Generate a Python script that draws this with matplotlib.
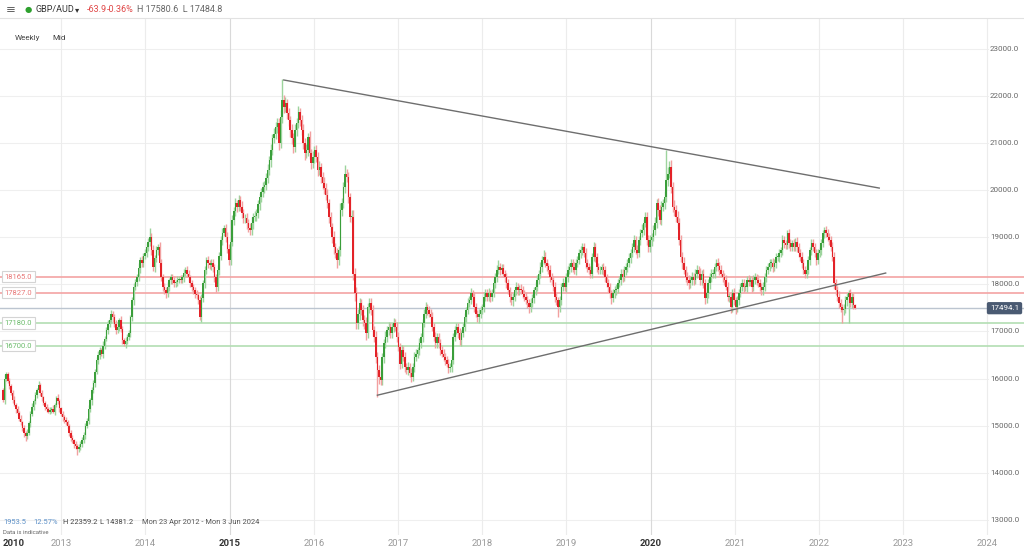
import datetime as dt
import matplotlib
matplotlib.use("Agg")
import matplotlib.pyplot as plt
import matplotlib.dates as mdates
import numpy as np

plt.rcParams["font.family"] = ["Roboto", "DejaVu Sans"]

# ---------------- data ----------------
start_date = dt.date(2012, 4, 23)
first_open = 15750
closes = [
    15550, 16000, 16100, 15950, 15850, 15700, 15550, 15450, 15350, 15270,
    15150, 15070, 14950, 14850, 14780, 14850, 15050, 15250, 15400, 15520,
    15650, 15750, 15860, 15700, 15600, 15480, 15400, 15350, 15300, 15330,
    15350, 15300, 15450, 15580, 15520, 15370, 15250, 15180, 15120, 15070,
    15000, 14850, 14750, 14690, 14620, 14580, 14500, 14540, 14620, 14700,
    14800, 15000, 15110, 15350, 15540, 15750, 15900, 16150, 16390, 16500,
    16600, 16530, 16700, 16850, 17030, 17150, 17250, 17380, 17300, 17150,
    17030, 17100, 17240, 17050, 16820, 16740, 16800, 16880, 16960, 17300,
    17660, 17940, 18050, 18150, 18350, 18510, 18450, 18600, 18660, 18800,
    18890, 19000, 18720, 18360, 18550, 18720, 18790, 18450, 18150, 17940,
    17880, 17810, 17950, 18090, 18150, 18100, 18020, 18050, 18090, 18120,
    18100, 18150, 18250, 18300, 18230, 18150, 18020, 17950, 17870, 17800,
    17780, 17660, 17300, 17700, 18020, 18300, 18510, 18450, 18400, 18450,
    18360, 18150, 17940, 18300, 18600, 18940, 19100, 19190, 19000, 18750,
    18510, 18900, 19360, 19550, 19720, 19650, 19790, 19650, 19510, 19400,
    19400, 19300, 19200, 19150, 19300, 19430, 19450, 19510, 19700, 19850,
    19950, 20060, 20100, 20250, 20420, 20630, 20850, 21100, 21200, 21340,
    21420, 21000, 21550, 21910, 21760, 21840, 21630, 21480, 21270, 21100,
    20910, 21270, 21420, 21660, 21480, 21270, 21000, 20780, 20850, 21130,
    20780, 20570, 20700, 20850, 20700, 20420, 20490, 20270, 20140, 20050,
    19900, 19720, 19430, 19210, 19000, 18790, 18660, 18510, 18720, 19580,
    19720, 20060, 20350, 20270, 19850, 19430, 19430, 18230, 17810, 17170,
    17380, 17600, 17450, 17240, 17170, 16960, 17510, 17600, 17450, 17030,
    16880, 16460, 16180, 16030, 15970, 16460, 16750, 16880, 17030, 17090,
    16960, 17090, 17170, 17090, 16880, 16670, 16320, 16600, 16460, 16250,
    16180, 16250, 16110, 16030, 16250, 16460, 16530, 16600, 16750, 16880,
    17170, 17380, 17510, 17450, 17380, 17300, 17090, 16880, 16750, 16880,
    16750, 16600, 16530, 16460, 16390, 16320, 16220, 16250, 16390, 16880,
    17030, 17090, 16960, 16810, 16960, 17090, 17300, 17450, 17600, 17660,
    17810, 17730, 17510, 17380, 17300, 17380, 17450, 17510, 17730, 17810,
    17730, 17810, 17730, 17810, 18020, 18150, 18300, 18360, 18300, 18340,
    18230, 18150, 18020, 17870, 17730, 17660, 17730, 17870, 17940, 17870,
    17900, 17870, 17800, 17730, 17660, 17600, 17510, 17600, 17700, 17870,
    17950, 18090, 18230, 18360, 18510, 18580, 18450, 18380, 18300, 18150,
    18090, 17940, 17730, 17660, 17510, 17660, 17940, 18020, 17940, 18150,
    18300, 18360, 18450, 18360, 18300, 18450, 18510, 18660, 18720, 18790,
    18660, 18450, 18360, 18300, 18230, 18580, 18790, 18580, 18360, 18300,
    18300, 18360, 18300, 18150, 18020, 17940, 17810, 17700, 17810, 17870,
    17900, 18020, 18090, 18230, 18150, 18300, 18360, 18450, 18550, 18660,
    18790, 18940, 18720, 18660, 18940, 19080, 19150, 19300, 19430, 18940,
    18790, 18940, 19000, 19150, 19300, 19720, 19580, 19360, 19650, 19720,
    19850, 20210, 20350, 20490, 20060, 19650, 19580, 19430, 19300, 18940,
    18580, 18450, 18300, 18150, 18090, 18020, 18090, 18150, 18090, 18230,
    18300, 18230, 18090, 18230, 18020, 17700, 17810, 18020, 18150, 18230,
    18230, 18360, 18450, 18380, 18300, 18230, 18150, 18090, 17950, 17730,
    17730, 17510, 17810, 17660, 17510, 17660, 17810, 17940, 18020, 17940,
    17940, 18090, 18050, 18090, 17940, 18090, 18150, 18090, 18020, 17940,
    17870, 17940, 18150, 18300, 18360, 18450, 18450, 18360, 18450, 18580,
    18580, 18660, 18720, 18940, 18870, 18830, 19080, 18870, 18790, 18870,
    18790, 18900, 18790, 18660, 18580, 18450, 18300, 18230, 18300, 18510,
    18720, 18870, 18790, 18660, 18510, 18660, 18720, 18870, 19080, 19150,
    19080, 19000, 18940, 18790, 18580, 18020, 17870, 17730, 17600, 17510,
    17450, 17480, 17660, 17730, 17810, 17600, 17730, 17558, 17494.1,
]
# upper / lower wick beyond the body, in tens of points
wick_hi = [
    6, 9, 5, 4, 7, 3, 5, 8, 4, 6,  5, 7, 3, 6, 4, 9, 5, 6, 8, 4,
    7, 5, 9, 4, 6, 3, 5, 7, 4, 6,  5, 8, 4, 6, 9, 5, 3, 6, 4, 7,
    6, 4, 7, 5, 3, 6, 4, 8, 5, 6,  7, 5, 6, 9, 4, 8, 6, 5, 7, 9,
    8, 6, 9, 5, 7, 10, 6, 8, 5, 7,  9, 6, 5, 8, 7, 4, 9, 6, 8, 5,
    7, 9, 6, 8, 10, 7, 9, 6, 8, 7,  9, 19, 8, 12, 7, 9, 6, 10, 8, 7,
    8, 6, 9, 5, 7, 6, 8, 5, 9, 6,  7, 5, 8, 6, 9, 7, 5, 8, 6, 7,
    8, 6, 10, 9, 7, 8, 6, 9, 7, 8,  9, 7, 8, 10, 9, 8, 10, 7, 9, 12,
    10, 8, 12, 9, 11, 8, 10, 9, 12, 8,  9, 11, 8, 10, 12, 9, 11, 8, 10, 9,
    10, 12, 9, 11, 13, 10, 12, 9, 11, 10,  12, 10, 15, 45, 11, 13, 9, 12, 10, 14,
    11, 13, 10, 12, 9, 11, 14, 10, 12, 9,  12, 10, 13, 9, 11, 10, 12, 9, 11, 13,
    10, 12, 9, 11, 10, 13, 9, 12, 10, 14,  12, 11, 18, 10, 12, 9, 15, 14, 11, 13,
    10, 12, 9, 11, 10, 13, 9, 12, 10, 11,  9, 12, 10, 11, 13, 9, 10, 12, 9, 11,
    10, 8, 11, 9, 12, 10, 8, 11, 9, 10,  8, 10, 9, 11, 8, 10, 9, 8, 11, 9,
    10, 9, 11, 8, 10, 9, 12, 8, 10, 9,  9, 8, 10, 9, 8, 10, 9, 8, 10, 9,
    8, 10, 9, 11, 8, 9, 10, 8, 11, 9,  12, 8, 10, 9, 8, 10, 9, 8, 10, 9,
    9, 11, 8, 10, 9, 10, 12, 15, 9, 10,  9, 8, 10, 9, 8, 10, 9, 8, 10, 9,
    8, 10, 9, 8, 10, 9, 8, 10, 9, 8,  9, 10, 8, 11, 9, 14, 10, 9, 8, 10,
    9, 8, 10, 9, 8, 10, 9, 11, 8, 10,  9, 10, 8, 9, 11, 8, 10, 9, 10, 8,
    9, 11, 8, 10, 9, 8, 10, 9, 8, 10,  9, 8, 10, 9, 8, 10, 9, 8, 10, 9,
    10, 9, 8, 10, 9, 8, 10, 9, 11, 10,  9, 10, 8, 11, 9, 10, 12, 9, 11, 10,
    10, 11, 9, 10, 12, 9, 11, 10, 12, 10,  13, 64, 15, 12, 14, 11, 13, 10, 12, 11,
    11, 10, 12, 9, 11, 10, 9, 11, 10, 9,  10, 9, 11, 8, 10, 9, 11, 10, 9, 10,
    9, 10, 8, 11, 9, 10, 8, 9, 10, 9,  8, 10, 9, 11, 8, 10, 9, 8, 10, 9,
    9, 8, 10, 9, 8, 10, 9, 8, 10, 9,  8, 10, 9, 8, 10, 9, 8, 10, 9, 8,
    9, 10, 8, 11, 9, 8, 7, 10, 9, 8,  9, 8, 10, 9, 8, 10, 9, 8, 10, 9,
    8, 9, 10, 8, 9, 10, 8, 9, 7, 6,  9, 10, 8, 9, 10, 11, 9, 10, 12, 9,
    8, 10, 9, 8, 6, 10, 9, 8, 2,
]
wick_lo = [
    5, 8, 6, 4, 7, 5, 6, 4, 8, 5,  6, 5, 7, 9, 10, 6, 5, 7, 4, 6,
    5, 7, 4, 6, 8, 5, 7, 6, 4, 5,  6, 4, 7, 5, 6, 8, 5, 7, 6, 5,
    7, 6, 8, 5, 9, 7, 12, 6, 5, 7,  6, 8, 5, 7, 6, 9, 5, 8, 6, 7,
    8, 6, 9, 7, 5, 8, 6, 7, 9, 6,  8, 7, 9, 6, 8, 5, 9, 7, 6, 8,
    7, 9, 6, 8, 7, 10, 8, 9, 7, 8,  9, 8, 10, 7, 9, 8, 10, 9, 8, 9,
    8, 9, 7, 10, 8, 9, 7, 8, 9, 7,  8, 7, 9, 8, 7, 9, 8, 10, 7, 8,
    9, 8, 6, 10, 8, 9, 7, 10, 8, 9,  10, 9, 11, 8, 10, 9, 11, 8, 10, 9,
    9, 10, 8, 11, 9, 12, 10, 9, 11, 10,  10, 12, 9, 11, 10, 12, 9, 11, 10, 12,
    11, 10, 12, 9, 11, 10, 13, 11, 10, 12,  12, 14, 11, 13, 12, 10, 13, 11, 14, 12,
    13, 11, 12, 10, 13, 11, 12, 14, 10, 12,  11, 13, 10, 12, 11, 13, 10, 12, 11, 13,
    12, 10, 13, 11, 12, 14, 10, 16, 11, 12,  13, 11, 12, 10, 13, 11, 12, 14, 16, 12,
    11, 13, 10, 12, 11, 14, 10, 12, 11, 13,  10, 12, 58, 14, 11, 10, 12, 9, 11, 10,
    10, 9, 11, 8, 10, 9, 12, 10, 9, 11,  9, 10, 8, 11, 9, 10, 8, 9, 10, 9,
    10, 8, 9, 11, 8, 10, 9, 8, 11, 9,  9, 10, 8, 9, 10, 8, 11, 9, 10, 8,
    9, 8, 10, 9, 11, 8, 9, 10, 8, 9,  8, 10, 9, 8, 10, 12, 9, 8, 10, 9,
    9, 8, 10, 9, 8, 10, 9, 8, 10, 9,  8, 10, 9, 8, 10, 9, 11, 8, 10, 9,
    9, 8, 10, 9, 8, 10, 11, 9, 8, 10,  9, 10, 8, 9, 10, 8, 9, 10, 8, 9,
    10, 9, 11, 10, 21, 9, 10, 8, 9, 10,  9, 8, 10, 9, 8, 10, 9, 8, 10, 9,
    8, 10, 9, 8, 10, 9, 8, 10, 9, 8,  9, 8, 10, 9, 8, 10, 9, 12, 8, 9,
    10, 9, 8, 10, 9, 8, 10, 9, 8, 10,  9, 10, 8, 11, 9, 10, 8, 11, 9, 10,
    11, 10, 12, 9, 11, 10, 12, 9, 11, 10,  12, 11, 13, 10, 12, 11, 13, 10, 12, 11,
    10, 12, 9, 11, 10, 12, 9, 11, 10, 9,  10, 9, 11, 10, 9, 12, 10, 9, 11, 10,
    9, 10, 8, 9, 10, 8, 9, 10, 8, 9,  10, 12, 9, 10, 13, 9, 10, 8, 9, 10,
    9, 10, 8, 9, 10, 8, 9, 10, 8, 9,  10, 9, 8, 10, 9, 8, 10, 9, 8, 10,
    9, 10, 8, 9, 10, 8, 9, 10, 8, 9,  8, 9, 10, 8, 9, 10, 8, 9, 10, 8,
    9, 10, 8, 9, 10, 8, 9, 10, 8, 9,  8, 9, 10, 8, 9, 12, 10, 9, 11, 10,
    28, 10, 9, 11, 56, 9, 10, 8, 1,
]

level_red = [18165.0, 17827.0]
level_green = [17180.0, 16700.0]
last_price = 17494.1
trend_upper_dates = ["2015-08-24", "2022-09-19"]
trend_upper_vals = [22336, 20043]
trend_lower_dates = ["2016-10-03", "2022-10-17"]
trend_lower_vals = [15648, 18240]
y_ticks = [13000, 14000, 15000, 16000, 17000, 18000, 19000, 20000, 21000, 22000, 23000]
year_ticks = [2013, 2014, 2015, 2016, 2017, 2018, 2019, 2020, 2021, 2022, 2023, 2024]
bold_years = [2015, 2020]

# ---------------- figure ----------------
W, H = 1024, 549
fig = plt.figure(figsize=(W / 100, H / 100), dpi=100)
fig.patch.set_facecolor("white")

ax_top_px, ax_bot_px = 18, 535
ax = fig.add_axes([0, (H - ax_bot_px) / H, 1, (ax_bot_px - ax_top_px) / H])
for s in ax.spines.values():
    s.set_visible(False)
ax.set_xticks([])
ax.set_yticks([])

pts_per_px = 1000 / 47.13
ax.set_ylim(23000 - (ax_bot_px - 48.7) * pts_per_px, 23000 + (48.7 - ax_top_px) * pts_per_px)
t0 = mdates.date2num(start_date)
days_per_px = 365.25 / 84.2
ax.set_xlim(t0 - 3 * days_per_px, t0 + (W - 3) * days_per_px)


def fx(px):
    return px / W


def fy(py):
    return 1 - py / H


def price_px(p):
    return 48.7 + (23000 - p) / pts_per_px


n = min(len(closes), len(wick_hi), len(wick_lo))
c = np.array(closes[:n], dtype=float)
o = np.concatenate([[first_open], c[:-1]])
hi = np.maximum(o, c) + np.array(wick_hi[:n]) * 10
lo = np.minimum(o, c) - np.array(wick_lo[:n]) * 10
x = mdates.date2num([start_date + dt.timedelta(weeks=i) for i in range(n)])

# grid
grid_right = 988 / W
for yt in y_ticks:
    ax.axhline(yt, xmin=0, xmax=grid_right, color="#efefef", lw=0.8, zorder=0)
for yr in year_ticks:
    xv = mdates.date2num(dt.date(yr, 1, 1))
    ax.axvline(xv, color="#d9d9d9" if yr in bold_years else "#ececec", lw=0.8, zorder=0)

# level lines
for lv in level_red:
    ax.axhline(lv, color="#f4a3a3", lw=1.2, zorder=1)
for lv in level_green:
    ax.axhline(lv, color="#b3deb3", lw=1.2, zorder=1)
ax.axhline(last_price, color="#bcc5d0", lw=1.0, zorder=1)

# candles
up = c >= o
green, red = "#3a9e3a", "#e32228"
green_w, red_w = "#9dd49d", "#f2a0a0"
ax.vlines(x[up], lo[up], hi[up], color=green_w, lw=1.0, zorder=2)
ax.vlines(x[~up], lo[~up], hi[~up], color=red_w, lw=1.0, zorder=2)
body_b = np.minimum(o, c)
body_h = np.maximum(np.abs(c - o), 15)
ax.bar(x[up], body_h[up], bottom=body_b[up], width=6.5, color=green, lw=0, zorder=3)
ax.bar(x[~up], body_h[~up], bottom=body_b[~up], width=6.5, color=red, lw=0, zorder=3)

# trend lines
ax.plot(mdates.datestr2num(trend_upper_dates), trend_upper_vals, color="#6e6e6e", lw=1.0, zorder=4)
ax.plot(mdates.datestr2num(trend_lower_dates), trend_lower_vals, color="#6e6e6e", lw=1.0, zorder=4)

# y tick labels (right)
for yt in y_ticks:
    fig.text(fx(990), fy(price_px(yt)), f"{yt:.1f}", fontsize=5.8, color="#666666",
             va="center", ha="left")

# right current price box
fig.text(fx(1004.5), fy(price_px(last_price)), f"{last_price:.1f}", fontsize=5.8, color="white",
         va="center", ha="center",
         bbox=dict(boxstyle="round,pad=0.3,rounding_size=0.15", fc="#4a5a72", ec="#4a5a72"))

# left level labels
for lv, col in [(v, "#e87878") for v in level_red] + [(v, "#6cbc6c") for v in level_green]:
    fig.text(fx(32), fy(price_px(lv)), f"{lv:.1f}", fontsize=5.5, color=col, va="center", ha="right",
             bbox=dict(boxstyle="square,pad=0.35", fc="white", ec="#d4d4d4", lw=0.8))

# header
fig.add_artist(plt.Line2D([0, 1], [fy(18), fy(18)], color="#e2e2e2", lw=0.8))
fig.text(fx(6), fy(9), "≡", fontsize=8.5, color="#666666", va="center", ha="left",
         family=["DejaVu Sans"])
fig.text(fx(25), fy(9.5), "●", fontsize=6, color="#2ea02e", va="center", ha="left",
         family=["DejaVu Sans"])
fig.text(fx(35), fy(9), "GBP/AUD", fontsize=6.5, color="#333333", va="center", ha="left")
fig.text(fx(75), fy(9.5), "▾", fontsize=6.0, color="#333333", va="center", ha="left",
         family=["DejaVu Sans"])
fig.text(fx(87), fy(9), "-63.9", fontsize=6.5, color="#e04848", va="center", ha="left")
fig.text(fx(107), fy(9), "-0.36%", fontsize=6.5, color="#e04848", va="center", ha="left")
fig.text(fx(137), fy(9), "H 17580.6  L 17484.8", fontsize=6.5, color="#666666", va="center", ha="left")
fig.text(fx(15), fy(38), "Weekly", fontsize=5.8, color="#444444", va="center", ha="left")
fig.text(fx(52), fy(38), "Mid", fontsize=5.8, color="#444444", va="center", ha="left")

# footer info
fig.text(fx(3), fy(522), "1953.5", fontsize=5.4, color="#5b8fc7", va="center", ha="left")
fig.text(fx(33), fy(522), "12.57%", fontsize=5.4, color="#5b8fc7", va="center", ha="left")
fig.text(fx(63), fy(522), "H 22359.2", fontsize=5.4, color="#444444", va="center", ha="left")
fig.text(fx(100), fy(522), "L 14381.2", fontsize=5.4, color="#444444", va="center", ha="left")
fig.text(fx(142), fy(522), "Mon 23 Apr 2012 - Mon 3 Jun 2024", fontsize=5.4, color="#555555",
         va="center", ha="left")
fig.text(fx(3), fy(533), "Data is indicative", fontsize=4.3, color="#666666", va="center", ha="left")

# year labels
fig.text(fx(3), fy(543), "2010", fontsize=6.8, color="#333333", fontweight="bold", va="center", ha="left")
for yr in year_ticks:
    xv = mdates.date2num(dt.date(yr, 1, 1))
    px = 3 + (xv - t0) / days_per_px
    b = yr in bold_years
    fig.text(fx(px), fy(543), str(yr), fontsize=6.8, color="#333333" if b else "#999999",
             fontweight="bold" if b else "normal", va="center", ha="center")

fig.savefig("out.png", dpi=100, facecolor="white")
